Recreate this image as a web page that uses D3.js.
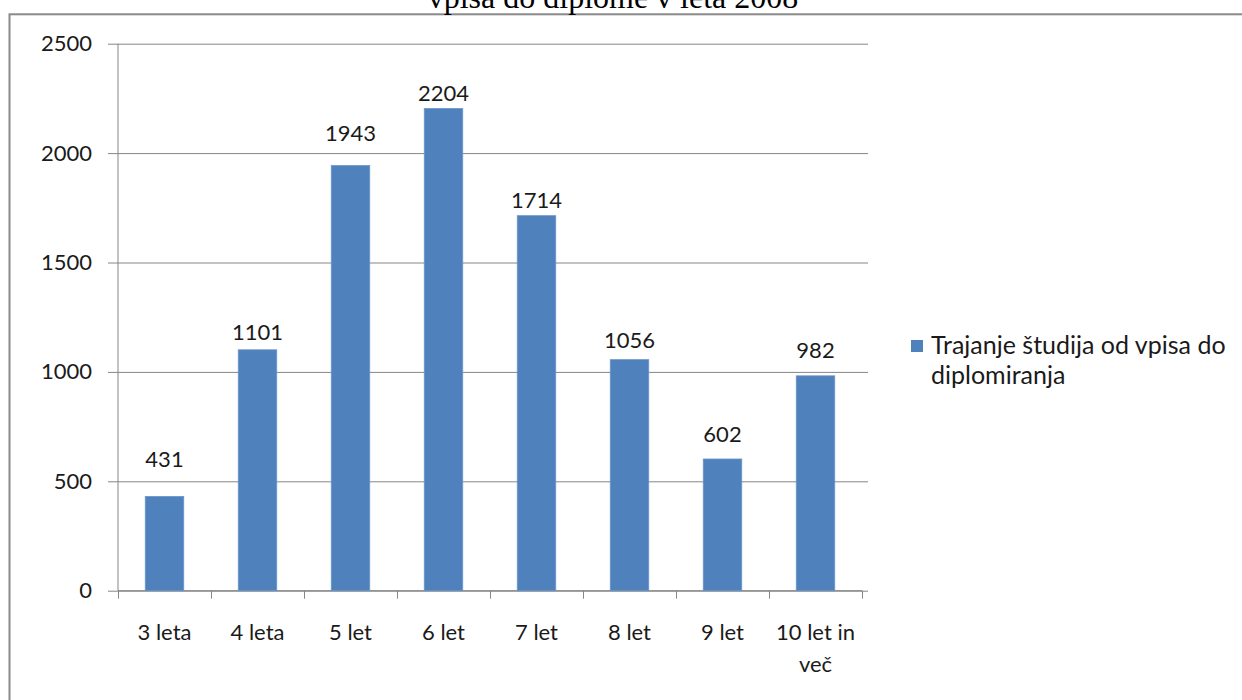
<!DOCTYPE html>
<html>
<head>
<meta charset="utf-8">
<script src="https://cdn.jsdelivr.net/npm/d3@7"></script>
<style>
  html, body { margin: 0; padding: 0; background: #fff; }
  svg { display: block; }
</style>
</head>
<body>
<svg id="chart" width="1242" height="700"></svg>
<script>
// Trajanje študija od vpisa do diplomiranja
const categories = ["3 leta", "4 leta", "5 let", "6 let", "7 let", "8 let", "9 let", "10 let in več"];
const values = [431, 1101, 1943, 2204, 1714, 1056, 602, 982];
const yTicks = [0, 500, 1000, 1500, 2000, 2500];
const seriesName = "Trajanje študija od vpisa do diplomiranja";
const titleText = "vpisa do diplome v leta 2008";

// gap in px between each bar top and its value label baseline
const labelGap = [29, 10, 25, 7, 8, 12, 17, 18];

const svg = d3.select("#chart");
const font = "Lato, 'Open Sans', sans-serif";
const gridColor = "#868686";
const barColor = "#4F81BD";

// outer frame
svg.append("rect")
  .attr("x", 9.5).attr("y", 14.3)
  .attr("width", 1300).attr("height", 800)
  .attr("fill", "none")
  .attr("stroke", "#8a8a8a")
  .attr("stroke-width", 2);

// title (partly clipped at the top edge)
svg.append("text")
  .attr("x", 613).attr("y", 8)
  .attr("text-anchor", "middle")
  .attr("font-family", "'Liberation Serif', 'Times New Roman', serif")
  .attr("font-size", 32)
  .attr("fill", "#000")
  .text(titleText);

const x = d3.scaleBand()
  .domain(categories)
  .range([118, 862])
  .paddingInner(0.586)
  .paddingOuter(0.293);

const y = d3.scaleLinear()
  .domain([0, 2500])
  .range([590.7, 43.7]);

// horizontal gridlines with left tick marks
const yAxis = d3.axisLeft(y)
  .tickValues(yTicks)
  .tickSize(10)
  .tickPadding(16)
  .tickFormat(d3.format("d"));

const gy = svg.append("g")
  .attr("transform", "translate(118,0)")
  .call(yAxis);
gy.select(".domain").attr("stroke", gridColor).attr("d", `M0,${y(2500)}V${y(0)}`);
gy.selectAll(".tick line").attr("stroke", gridColor).attr("x1", -10).attr("x2", 750);
gy.selectAll(".tick text")
  .attr("font-family", font)
  .attr("font-size", 22)
  .attr("fill", "#1a1a1a");

// category axis: ticks sit on band boundaries
const boundaries = categories.map(c => x(c) - x.step() * x.paddingInner() / 2)
  .concat([x(categories[categories.length - 1]) + x.bandwidth() + x.step() * x.paddingInner() / 2]);

const gx = svg.append("g");
gx.append("line")
  .attr("x1", 118).attr("x2", 862)
  .attr("y1", y(0)).attr("y2", y(0))
  .attr("stroke", gridColor);
gx.selectAll("line.tk")
  .data(boundaries)
  .join("line")
  .attr("class", "tk")
  .attr("x1", d => Math.round(d) + 0.5).attr("x2", d => Math.round(d) + 0.5)
  .attr("y1", y(0)).attr("y2", y(0) + 8)
  .attr("stroke", gridColor);

// category labels, wrapped onto two lines where the original breaks them
const catLines = { "10 let in več": ["10 let in", "več"] };
gx.selectAll("text.cat")
  .data(categories)
  .join("text")
  .attr("class", "cat")
  .attr("text-anchor", "middle")
  .attr("font-family", font)
  .attr("font-size", 22)
  .attr("fill", "#1a1a1a")
  .each(function (d) {
    const lines = catLines[d] || [d];
    const t = d3.select(this);
    lines.forEach((ln, i) => {
      t.append("tspan")
        .attr("x", x(d) + x.bandwidth() / 2)
        .attr("y", 640 + i * 32)
        .text(ln);
    });
  });

// bars
svg.append("g")
  .selectAll("rect")
  .data(values)
  .join("rect")
  .attr("x", (d, i) => x(categories[i]))
  .attr("y", d => y(d))
  .attr("width", x.bandwidth())
  .attr("height", d => y(0) - y(d))
  .attr("fill", barColor)
  .attr("stroke", "#6a96cc")
  .attr("stroke-width", 0.8);

// value labels
svg.append("g")
  .selectAll("text")
  .data(values)
  .join("text")
  .attr("x", (d, i) => x(categories[i]) + x.bandwidth() / 2)
  .attr("y", (d, i) => y(d) - labelGap[i])
  .attr("text-anchor", "middle")
  .attr("font-family", font)
  .attr("font-size", 22)
  .attr("fill", "#1a1a1a")
  .text(d => d);

// legend
const lg = svg.append("g");
lg.append("rect")
  .attr("x", 911).attr("y", 340)
  .attr("width", 12).attr("height", 12)
  .attr("fill", barColor);
const lt = lg.append("text")
  .attr("font-family", font)
  .attr("font-size", 25)
  .attr("fill", "#1a1a1a");
lt.append("tspan").attr("x", 931).attr("y", 354).text(seriesName.split(" diplomiranja")[0]);
lt.append("tspan").attr("x", 931).attr("y", 384).text("diplomiranja");
</script>
</body>
</html>
